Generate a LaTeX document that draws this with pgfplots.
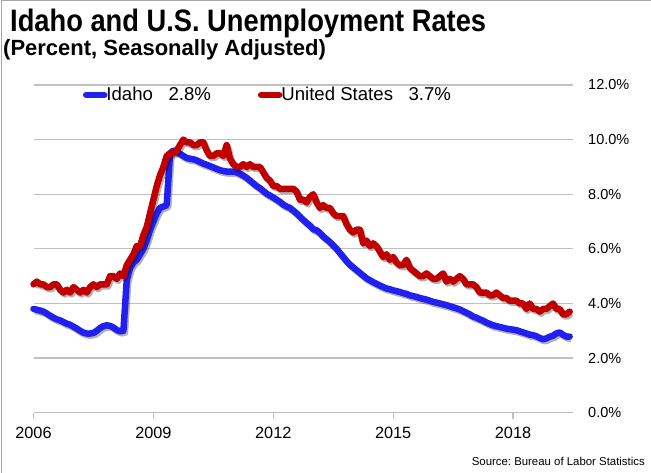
\documentclass[border=0pt]{standalone}
\usepackage{pgfplots}
\pgfplotsset{compat=1.18}
\usepackage{pgfplotstable}
\usepackage{fontspec}
\setmainfont{Liberation Sans}
\definecolor{idblue}{RGB}{32,32,240}
\definecolor{usred}{RGB}{192,0,0}
\definecolor{gridgray}{RGB}{192,192,192}
\pgfplotstableread{
m idaho us
0 3.80 4.7
1 3.77 4.8
2 3.74 4.7
3 3.70 4.7
4 3.63 4.6
5 3.55 4.6
6 3.48 4.7
7 3.42 4.7
8 3.38 4.5
9 3.32 4.4
10 3.26 4.5
11 3.22 4.4
12 3.15 4.6
13 3.08 4.5
14 3.00 4.4
15 2.93 4.5
16 2.90 4.4
17 2.90 4.6
18 2.92 4.7
19 3.00 4.6
20 3.10 4.7
21 3.17 4.7
22 3.20 4.7
23 3.18 5.0
24 3.12 5.0
25 3.03 4.9
26 2.98 5.1
27 3.00 5.0
28 4.85 5.4
29 5.30 5.6
30 5.50 5.8
31 5.60 6.1
32 5.80 6.1
33 6.00 6.5
34 6.30 6.8
35 6.70 7.3
36 7.00 7.8
37 7.30 8.3
38 7.50 8.7
39 7.55 9.0
40 7.60 9.4
41 9.50 9.5
42 9.60 9.5
43 9.55 9.6
44 9.48 9.8
45 9.40 10.0
46 9.33 9.9
47 9.30 9.9
48 9.28 9.8
49 9.24 9.8
50 9.18 9.9
51 9.12 9.9
52 9.08 9.6
53 9.03 9.4
54 8.98 9.4
55 8.93 9.5
56 8.88 9.5
57 8.85 9.4
58 8.83 9.8
59 8.83 9.3
60 8.83 9.1
61 8.80 9.0
62 8.75 9.0
63 8.68 9.1
64 8.60 9.0
65 8.50 9.1
66 8.40 9.0
67 8.30 9.0
68 8.22 9.0
69 8.12 8.8
70 8.02 8.6
71 7.95 8.5
72 7.88 8.3
73 7.80 8.3
74 7.72 8.2
75 7.62 8.2
76 7.55 8.2
77 7.50 8.2
78 7.40 8.2
79 7.30 8.1
80 7.18 7.8
81 7.06 7.8
82 6.95 7.7
83 6.85 7.9
84 6.72 8.0
85 6.68 7.7
86 6.58 7.5
87 6.45 7.6
88 6.35 7.5
89 6.25 7.5
90 6.12 7.3
91 6.00 7.2
92 5.85 7.2
93 5.70 7.2
94 5.55 6.9
95 5.42 6.7
96 5.32 6.6
97 5.22 6.7
98 5.12 6.7
99 5.02 6.2
100 4.92 6.3
101 4.85 6.1
102 4.78 6.2
103 4.72 6.1
104 4.66 5.9
105 4.60 5.7
106 4.55 5.8
107 4.52 5.6
108 4.48 5.7
109 4.45 5.5
110 4.42 5.4
111 4.38 5.4
112 4.35 5.6
113 4.30 5.3
114 4.27 5.2
115 4.24 5.1
116 4.20 5.0
117 4.17 5.0
118 4.14 5.1
119 4.10 5.0
120 4.06 4.9
121 4.03 4.9
122 4.00 5.0
123 3.97 5.1
124 3.94 4.8
125 3.90 4.9
126 3.86 4.8
127 3.82 4.9
128 3.78 5.0
129 3.72 4.9
130 3.66 4.7
131 3.60 4.7
132 3.52 4.7
133 3.48 4.6
134 3.42 4.4
135 3.37 4.4
136 3.30 4.4
137 3.25 4.3
138 3.20 4.3
139 3.17 4.4
140 3.14 4.3
141 3.11 4.2
142 3.08 4.2
143 3.06 4.1
144 3.04 4.1
145 3.02 4.1
146 2.98 4.0
147 2.94 4.0
148 2.90 3.8
149 2.86 4.0
150 2.84 3.8
151 2.80 3.8
152 2.74 3.7
153 2.69 3.8
154 2.72 3.8
155 2.78 3.9
156 2.82 4.0
157 2.90 3.8
158 2.94 3.8
159 2.85 3.6
160 2.79 3.6
161 2.79 3.7
}\datatable
\begin{document}
\begin{tikzpicture}
\path[use as bounding box] (0pt,0pt) rectangle (651pt,473pt);
\draw[gray!70, line width=1pt] (1.5pt,0pt) -- (1.5pt,472.5pt) -- (651pt,472.5pt);
\node[anchor=base west, inner sep=0pt] at (10pt,441pt)
  {\scalebox{0.88}[1]{\fontsize{31}{31}\selectfont\bfseries Idaho and U.S. Unemployment Rates}};
\node[anchor=base west, inner sep=0pt] at (3pt,417pt)
  {\fontsize{22}{22}\selectfont\bfseries (Percent, Seasonally Adjusted)};
\node[anchor=base east, inner sep=0pt] at (645pt,7pt)
  {\fontsize{11.4}{12}\selectfont Source:\ Bureau of Labor Statistics};
\begin{axis}[
  at={(33.5pt,60.3pt)}, anchor=south west,
  scale only axis, width=539.5pt, height=327.7pt,
  xmin=0, xmax=162, ymin=0, ymax=12,
  axis x line*=bottom, axis y line*=right,
  y axis line style={draw=none},
  x axis line style={draw=gridgray, line width=1.3pt},
  xtick={0,36,72,108,144},
  xticklabels={2006,2009,2012,2015,2018},
  ytick={0,2,4,6,8,10,12},
  yticklabel={\pgfmathprintnumber[fixed,fixed zerofill,precision=1]{\tick}\%},
  /pgf/number format/assume math mode=true,
  xtick align=outside,
  major tick length=6pt,
  xtick style={draw=gridgray, line width=1.3pt},
  ytick style={draw=none},
  ymajorgrids,
  grid style={draw=gridgray, line width=1.3pt},
  xticklabel style={font=\fontsize{16.3}{17}\selectfont, inner sep=0pt, yshift=-8pt},
  yticklabel style={font=\fontsize{14.5}{15}\selectfont, inner sep=0pt, anchor=west, xshift=15pt},
  legend style={at={(0.0917,0.9695)}, anchor=west, draw=none, fill=none,
    inner sep=0pt, outer sep=0pt, font=\fontsize{18.6}{20}\selectfont,
    nodes={inner sep=0pt},
    /tikz/every odd column/.append style={column sep=-1pt},
    /tikz/every even column/.append style={column sep=47pt}},
  legend columns=2,
  legend cell align=left,
  legend image code/.code={\draw[#1, line width=6.5pt, line cap=round] (0pt,0pt) -- (18pt,0pt);},
  clip=false,
]
\addplot[forget plot, draw=black, opacity=0.3, line width=6.5pt, line join=round, xshift=1.5pt, yshift=-2pt] table[x=m, y=idaho] {\datatable};
\addplot[draw=idblue, line width=6.5pt, line join=round, line cap=round] table[x=m, y=idaho] {\datatable};
\addlegendentry{Idaho\ \ \ 2.8\%}
\addplot[forget plot, draw=black, opacity=0.3, line width=6.5pt, line join=round, xshift=1.5pt, yshift=-2pt] table[x=m, y=us] {\datatable};
\addplot[draw=usred, line width=6.5pt, line join=round, line cap=round] table[x=m, y=us] {\datatable};
\addlegendentry{United States\ \ \ 3.7\%}
\end{axis}
\end{tikzpicture}
\end{document}
